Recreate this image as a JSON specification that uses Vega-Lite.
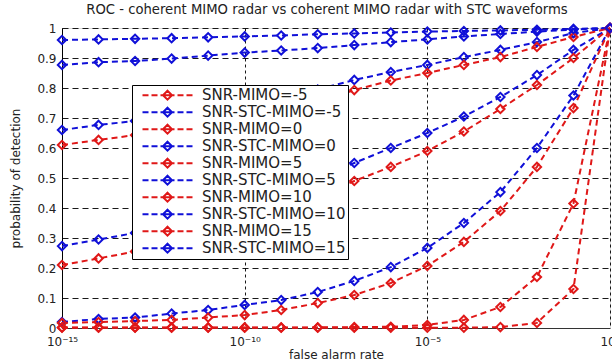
{
  "$schema": "https://vega.github.io/schema/vega-lite/v6.json",
  "width": 548,
  "height": 300,
  "autosize": {"type": "none"},
  "padding": {"left": 62, "top": 28, "right": 2, "bottom": 36},
  "background": "white",
  "title": {"text": "ROC - coherent MIMO radar vs  coherent MIMO radar with STC waveforms", "font": "DejaVu Sans", "fontSize": 13.2, "fontWeight": "normal", "color": "#222", "offset": 3, "dx": -9},
  "data": {"values": [
    {"s":"SNR-MIMO=-5","x":1e-15,"y":0.001},{"s":"SNR-MIMO=-5","x":1e-14,"y":0.001},{"s":"SNR-MIMO=-5","x":1e-13,"y":0.001},{"s":"SNR-MIMO=-5","x":1e-12,"y":0.001},{"s":"SNR-MIMO=-5","x":1e-11,"y":0.001},{"s":"SNR-MIMO=-5","x":1e-10,"y":0.001},{"s":"SNR-MIMO=-5","x":1e-9,"y":0.001},{"s":"SNR-MIMO=-5","x":1e-8,"y":0.001},{"s":"SNR-MIMO=-5","x":1e-7,"y":0.001},{"s":"SNR-MIMO=-5","x":1e-6,"y":0.001},{"s":"SNR-MIMO=-5","x":1e-5,"y":0.001},{"s":"SNR-MIMO=-5","x":1e-4,"y":0.001},{"s":"SNR-MIMO=-5","x":0.001,"y":0.003},{"s":"SNR-MIMO=-5","x":0.01,"y":0.017},{"s":"SNR-MIMO=-5","x":0.1,"y":0.13},{"s":"SNR-MIMO=-5","x":1,"y":1},
    {"s":"SNR-STC-MIMO=-5","x":1e-15,"y":0.02},{"s":"SNR-STC-MIMO=-5","x":1e-14,"y":0.03},{"s":"SNR-STC-MIMO=-5","x":1e-13,"y":0.035},{"s":"SNR-STC-MIMO=-5","x":1e-12,"y":0.048},{"s":"SNR-STC-MIMO=-5","x":1e-11,"y":0.06},{"s":"SNR-STC-MIMO=-5","x":1e-10,"y":0.077},{"s":"SNR-STC-MIMO=-5","x":1e-9,"y":0.093},{"s":"SNR-STC-MIMO=-5","x":1e-8,"y":0.12},{"s":"SNR-STC-MIMO=-5","x":1e-7,"y":0.157},{"s":"SNR-STC-MIMO=-5","x":1e-6,"y":0.203},{"s":"SNR-STC-MIMO=-5","x":1e-5,"y":0.267},{"s":"SNR-STC-MIMO=-5","x":1e-4,"y":0.35},{"s":"SNR-STC-MIMO=-5","x":0.001,"y":0.453},{"s":"SNR-STC-MIMO=-5","x":0.01,"y":0.6},{"s":"SNR-STC-MIMO=-5","x":0.1,"y":0.775},{"s":"SNR-STC-MIMO=-5","x":1,"y":1},
    {"s":"SNR-MIMO=0","x":1e-15,"y":0.002},{"s":"SNR-MIMO=0","x":1e-14,"y":0.002},{"s":"SNR-MIMO=0","x":1e-13,"y":0.002},{"s":"SNR-MIMO=0","x":1e-12,"y":0.002},{"s":"SNR-MIMO=0","x":1e-11,"y":0.002},{"s":"SNR-MIMO=0","x":1e-10,"y":0.002},{"s":"SNR-MIMO=0","x":1e-9,"y":0.002},{"s":"SNR-MIMO=0","x":1e-8,"y":0.002},{"s":"SNR-MIMO=0","x":1e-7,"y":0.003},{"s":"SNR-MIMO=0","x":1e-6,"y":0.004},{"s":"SNR-MIMO=0","x":1e-5,"y":0.01},{"s":"SNR-MIMO=0","x":1e-4,"y":0.027},{"s":"SNR-MIMO=0","x":0.001,"y":0.07},{"s":"SNR-MIMO=0","x":0.01,"y":0.17},{"s":"SNR-MIMO=0","x":0.1,"y":0.415},{"s":"SNR-MIMO=0","x":1,"y":1},
    {"s":"SNR-STC-MIMO=0","x":1e-15,"y":0.273},{"s":"SNR-STC-MIMO=0","x":1e-14,"y":0.295},{"s":"SNR-STC-MIMO=0","x":1e-13,"y":0.317},{"s":"SNR-STC-MIMO=0","x":1e-12,"y":0.345},{"s":"SNR-STC-MIMO=0","x":1e-11,"y":0.375},{"s":"SNR-STC-MIMO=0","x":1e-10,"y":0.41},{"s":"SNR-STC-MIMO=0","x":1e-9,"y":0.45},{"s":"SNR-STC-MIMO=0","x":1e-8,"y":0.5},{"s":"SNR-STC-MIMO=0","x":1e-7,"y":0.55},{"s":"SNR-STC-MIMO=0","x":1e-6,"y":0.6},{"s":"SNR-STC-MIMO=0","x":1e-5,"y":0.65},{"s":"SNR-STC-MIMO=0","x":1e-4,"y":0.705},{"s":"SNR-STC-MIMO=0","x":0.001,"y":0.77},{"s":"SNR-STC-MIMO=0","x":0.01,"y":0.843},{"s":"SNR-STC-MIMO=0","x":0.1,"y":0.927},{"s":"SNR-STC-MIMO=0","x":1,"y":1},
    {"s":"SNR-MIMO=5","x":1e-15,"y":0.017},{"s":"SNR-MIMO=5","x":1e-14,"y":0.02},{"s":"SNR-MIMO=5","x":1e-13,"y":0.023},{"s":"SNR-MIMO=5","x":1e-12,"y":0.027},{"s":"SNR-MIMO=5","x":1e-11,"y":0.035},{"s":"SNR-MIMO=5","x":1e-10,"y":0.043},{"s":"SNR-MIMO=5","x":1e-9,"y":0.06},{"s":"SNR-MIMO=5","x":1e-8,"y":0.083},{"s":"SNR-MIMO=5","x":1e-7,"y":0.11},{"s":"SNR-MIMO=5","x":1e-6,"y":0.15},{"s":"SNR-MIMO=5","x":1e-5,"y":0.207},{"s":"SNR-MIMO=5","x":1e-4,"y":0.287},{"s":"SNR-MIMO=5","x":0.001,"y":0.39},{"s":"SNR-MIMO=5","x":0.01,"y":0.537},{"s":"SNR-MIMO=5","x":0.1,"y":0.733},{"s":"SNR-MIMO=5","x":1,"y":1},
    {"s":"SNR-STC-MIMO=5","x":1e-15,"y":0.66},{"s":"SNR-STC-MIMO=5","x":1e-14,"y":0.677},{"s":"SNR-STC-MIMO=5","x":1e-13,"y":0.69},{"s":"SNR-STC-MIMO=5","x":1e-12,"y":0.705},{"s":"SNR-STC-MIMO=5","x":1e-11,"y":0.722},{"s":"SNR-STC-MIMO=5","x":1e-10,"y":0.74},{"s":"SNR-STC-MIMO=5","x":1e-9,"y":0.765},{"s":"SNR-STC-MIMO=5","x":1e-8,"y":0.795},{"s":"SNR-STC-MIMO=5","x":1e-7,"y":0.827},{"s":"SNR-STC-MIMO=5","x":1e-6,"y":0.853},{"s":"SNR-STC-MIMO=5","x":1e-5,"y":0.877},{"s":"SNR-STC-MIMO=5","x":1e-4,"y":0.903},{"s":"SNR-STC-MIMO=5","x":0.001,"y":0.927},{"s":"SNR-STC-MIMO=5","x":0.01,"y":0.953},{"s":"SNR-STC-MIMO=5","x":0.1,"y":0.983},{"s":"SNR-STC-MIMO=5","x":1,"y":1},
    {"s":"SNR-MIMO=10","x":1e-15,"y":0.21},{"s":"SNR-MIMO=10","x":1e-14,"y":0.232},{"s":"SNR-MIMO=10","x":1e-13,"y":0.255},{"s":"SNR-MIMO=10","x":1e-12,"y":0.28},{"s":"SNR-MIMO=10","x":1e-11,"y":0.31},{"s":"SNR-MIMO=10","x":1e-10,"y":0.345},{"s":"SNR-MIMO=10","x":1e-9,"y":0.385},{"s":"SNR-MIMO=10","x":1e-8,"y":0.435},{"s":"SNR-MIMO=10","x":1e-7,"y":0.49},{"s":"SNR-MIMO=10","x":1e-6,"y":0.537},{"s":"SNR-MIMO=10","x":1e-5,"y":0.59},{"s":"SNR-MIMO=10","x":1e-4,"y":0.655},{"s":"SNR-MIMO=10","x":0.001,"y":0.73},{"s":"SNR-MIMO=10","x":0.01,"y":0.81},{"s":"SNR-MIMO=10","x":0.1,"y":0.9},{"s":"SNR-MIMO=10","x":1,"y":1},
    {"s":"SNR-STC-MIMO=10","x":1e-15,"y":0.877},{"s":"SNR-STC-MIMO=10","x":1e-14,"y":0.886},{"s":"SNR-STC-MIMO=10","x":1e-13,"y":0.89},{"s":"SNR-STC-MIMO=10","x":1e-12,"y":0.898},{"s":"SNR-STC-MIMO=10","x":1e-11,"y":0.908},{"s":"SNR-STC-MIMO=10","x":1e-10,"y":0.918},{"s":"SNR-STC-MIMO=10","x":1e-9,"y":0.925},{"s":"SNR-STC-MIMO=10","x":1e-8,"y":0.933},{"s":"SNR-STC-MIMO=10","x":1e-7,"y":0.943},{"s":"SNR-STC-MIMO=10","x":1e-6,"y":0.953},{"s":"SNR-STC-MIMO=10","x":1e-5,"y":0.962},{"s":"SNR-STC-MIMO=10","x":1e-4,"y":0.972},{"s":"SNR-STC-MIMO=10","x":0.001,"y":0.98},{"s":"SNR-STC-MIMO=10","x":0.01,"y":0.988},{"s":"SNR-STC-MIMO=10","x":0.1,"y":0.995},{"s":"SNR-STC-MIMO=10","x":1,"y":1},
    {"s":"SNR-MIMO=15","x":1e-15,"y":0.61},{"s":"SNR-MIMO=15","x":1e-14,"y":0.627},{"s":"SNR-MIMO=15","x":1e-13,"y":0.643},{"s":"SNR-MIMO=15","x":1e-12,"y":0.66},{"s":"SNR-MIMO=15","x":1e-11,"y":0.678},{"s":"SNR-MIMO=15","x":1e-10,"y":0.697},{"s":"SNR-MIMO=15","x":1e-9,"y":0.72},{"s":"SNR-MIMO=15","x":1e-8,"y":0.755},{"s":"SNR-MIMO=15","x":1e-7,"y":0.793},{"s":"SNR-MIMO=15","x":1e-6,"y":0.825},{"s":"SNR-MIMO=15","x":1e-5,"y":0.85},{"s":"SNR-MIMO=15","x":1e-4,"y":0.877},{"s":"SNR-MIMO=15","x":0.001,"y":0.903},{"s":"SNR-MIMO=15","x":0.01,"y":0.937},{"s":"SNR-MIMO=15","x":0.1,"y":0.97},{"s":"SNR-MIMO=15","x":1,"y":1},
    {"s":"SNR-STC-MIMO=15","x":1e-15,"y":0.96},{"s":"SNR-STC-MIMO=15","x":1e-14,"y":0.962},{"s":"SNR-STC-MIMO=15","x":1e-13,"y":0.964},{"s":"SNR-STC-MIMO=15","x":1e-12,"y":0.966},{"s":"SNR-STC-MIMO=15","x":1e-11,"y":0.969},{"s":"SNR-STC-MIMO=15","x":1e-10,"y":0.972},{"s":"SNR-STC-MIMO=15","x":1e-9,"y":0.975},{"s":"SNR-STC-MIMO=15","x":1e-8,"y":0.979},{"s":"SNR-STC-MIMO=15","x":1e-7,"y":0.982},{"s":"SNR-STC-MIMO=15","x":1e-6,"y":0.985},{"s":"SNR-STC-MIMO=15","x":1e-5,"y":0.988},{"s":"SNR-STC-MIMO=15","x":1e-4,"y":0.99},{"s":"SNR-STC-MIMO=15","x":0.001,"y":0.992},{"s":"SNR-STC-MIMO=15","x":0.01,"y":0.994},{"s":"SNR-STC-MIMO=15","x":0.1,"y":0.997},{"s":"SNR-STC-MIMO=15","x":1,"y":1}
  ]},
  "encoding": {
    "x": {"field": "x", "type": "quantitative", "scale": {"type": "log", "domain": [1e-15, 1]},
      "axis": {"values": [1e-15, 1e-10, 1e-5, 1], "labelExpr": "datum.value < 1e-12 ? '10⁻¹⁵' : datum.value < 1e-7 ? '10⁻¹⁰' : datum.value < 0.01 ? '10⁻⁵' : '10⁰'", "title": "false alarm rate", "grid": true, "gridDash": [3, 3], "gridColor": "#000", "gridOpacity": 0.9, "ticks": false, "domainColor": "#333", "labelPadding": 8, "labelFontSize": 12, "labelColor": "#222", "labelFont": "DejaVu Sans", "titleFont": "DejaVu Sans", "titleFontSize": 12, "titleFontWeight": "normal", "titleColor": "#222", "titlePadding": 2, "labelFlush": false}},
    "y": {"field": "y", "type": "quantitative", "scale": {"domain": [0, 1]},
      "axis": {"values": [0, 0.1, 0.2, 0.3, 0.4, 0.5, 0.6, 0.7, 0.8, 0.9, 1], "labelExpr": "format(datum.value, '.1~f')", "title": "probability of detection", "grid": true, "gridDash": [6, 4], "gridColor": "#000", "gridOpacity": 0.9, "ticks": false, "domainColor": "#000", "labelPadding": 6, "labelFontSize": 12, "labelColor": "#222", "labelFont": "DejaVu Sans", "titleFont": "DejaVu Sans", "titleFontSize": 12, "titleFontWeight": "normal", "titleColor": "#222", "titlePadding": 14, "labelFlush": false}},
    "color": {"field": "s", "type": "nominal",
      "scale": {"domain": ["SNR-MIMO=-5", "SNR-STC-MIMO=-5", "SNR-MIMO=0", "SNR-STC-MIMO=0", "SNR-MIMO=5", "SNR-STC-MIMO=5", "SNR-MIMO=10", "SNR-STC-MIMO=10", "SNR-MIMO=15", "SNR-STC-MIMO=15"],
        "range": ["#e01818", "#1010d8", "#e01818", "#1010d8", "#e01818", "#1010d8", "#e01818", "#1010d8", "#e01818", "#1010d8"]},
      "legend": {"orient": "none", "legendX": 70, "legendY": 57, "title": null, "direction": "vertical", "strokeColor": "#000", "fillColor": "white", "padding": 2,
        "symbolType": "M0.2,0H1.4M2,0H3.2M3.8,0H6.6M7.2,0H8.4M9,0H10.2M5.2,-0.9L6.1,0L5.2,0.9L4.3,0Z",
        "symbolSize": 100, "symbolStrokeWidth": 2, "symbolFillColor": "transparent", "clipHeight": 16.4, "rowPadding": 0,
        "labelOffset": 53, "labelFont": "DejaVu Sans", "labelFontSize": 15, "labelColor": "#222", "labelLimit": 300}}
  },
  "layer": [
    {"data": {"values": [{}]}, "mark": {"type": "rule", "color": "#000", "strokeWidth": 1}, "encoding": {"x": {"datum": 1e-15}, "x2": {"datum": 1}, "y": {"datum": 1}, "color": {"value": "#000"}}},
    {"mark": {"type": "line", "strokeDash": [6, 4], "strokeWidth": 2}},
    {"mark": {"type": "point", "shape": "diamond", "filled": false, "size": 70, "strokeWidth": 2, "opacity": 1}}
  ]
}
